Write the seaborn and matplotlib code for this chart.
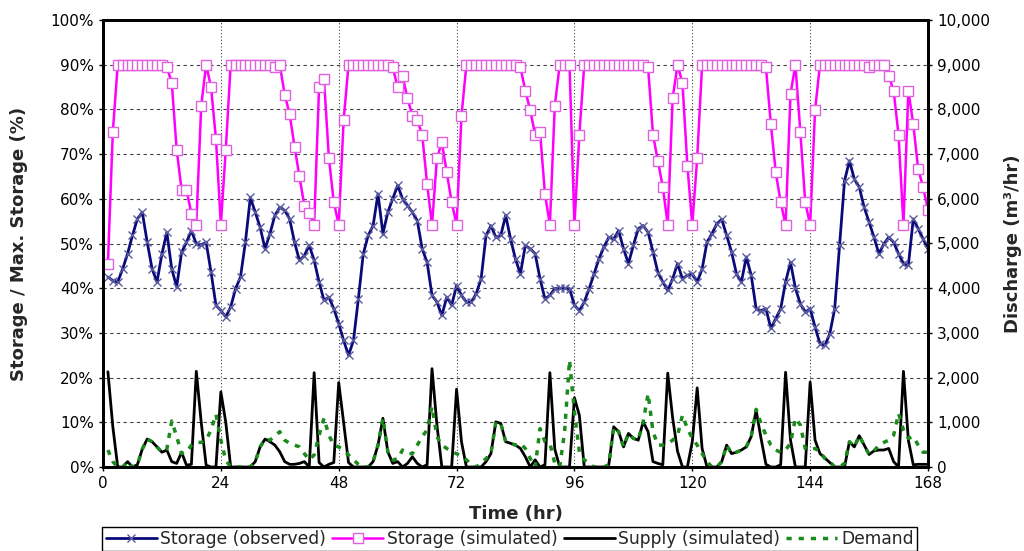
import numpy as np
import pandas as pd
import matplotlib
matplotlib.use("Agg")
import matplotlib.pyplot as plt
import seaborn as sns
from matplotlib.ticker import FuncFormatter, MultipleLocator

hours = list(range(1, 169))

storage_observed = [
    42.5, 41.7, 41.4, 44.3, 47.7, 51.8, 55.5, 57, 50.3, 44.3, 41.4, 47.7,
    52.5, 44.3, 40.3, 48, 50.3, 52.9, 49.9, 49.7, 50.3, 43.6, 36.2, 35,
    33.6, 35.8, 39.9, 42.5, 50.3, 60.3, 57, 53.6, 48.8, 52.2, 56.3, 58.1,
    57.4, 55.5, 50.3, 46.2, 47.3, 49.6, 46.2, 41.4, 37.3, 38, 35.4, 32.1,
    28.3, 25, 28.3, 37.6, 47.7, 51.8, 54, 61.1, 52.2, 57, 60, 63,
    60, 58.5, 57, 55.1, 48.8, 45.8, 38.4, 36.9, 33.9, 38, 36.2, 40.6,
    38.4, 36.9, 36.9, 38.8, 42.1, 51.8, 54, 51.4, 51.8, 56.3, 51, 46.5,
    43.2, 49.6, 48.8, 47.7, 42.1, 37.6, 38.4, 39.9, 40, 40, 39.9, 36.2,
    35, 36.9, 39.9, 43.2, 46.6, 49.2, 51.4, 51, 52.9, 48.8, 45.5, 49.6,
    53.3, 54, 52.5, 48.1, 43.5, 41.4, 39.5, 42.1, 45.5, 42.1, 42.9, 43.2,
    41.4, 44.3, 50.3, 52.2, 54.4, 55.4, 51.8, 48.1, 43.2, 41.4, 47, 42.9,
    35.4, 35, 35.4, 31, 33.2, 35.4, 41.4, 45.8, 40, 36.5, 34.7, 35.4,
    31.3, 27.6, 27.2, 29.8, 35.4, 49.6, 64, 68.5, 64.4, 62.6, 58.1, 54.8,
    51.4, 47.7, 49.9, 51.4, 50.3, 47.7, 45.5, 45.1, 55.5, 53.3, 51, 48.8,
]

storage_simulated = [
    45.5, 75, 90, 90, 90, 90, 90, 90, 90, 90, 90, 90,
    89.4, 86, 71, 62, 62, 56.7, 54.2, 80.8, 90, 85, 73.4, 54.2,
    71, 90, 90, 90, 90, 90, 90, 90, 90, 90, 89.4, 90,
    83.3, 79, 71.7, 65, 58.5, 56.8, 54.2, 85, 86.8, 69.1, 59.2, 54.2,
    77.6, 90, 90, 90, 90, 90, 90, 90, 90, 90, 89.4, 85,
    87.5, 82.5, 78.6, 77.6, 74.3, 63.3, 54.2, 69.1, 72.6, 65.9, 59.2, 54.2,
    78.6, 90, 90, 90, 90, 90, 90, 90, 90, 90, 90, 90,
    89.4, 84.2, 79.8, 74.3, 75, 61, 54.2, 80.8, 90, 90, 90, 54.2,
    74.3, 90, 90, 90, 90, 90, 90, 90, 90, 90, 90, 90,
    90, 90, 89.4, 74.3, 68.4, 62.6, 54.2, 82.5, 90, 85.9, 67.4, 54.2,
    69.1, 90, 90, 90, 90, 90, 90, 90, 90, 90, 90, 90,
    90, 90, 89.4, 76.7, 65.9, 59.2, 54.2, 83.4, 90, 75, 59.2, 54.2,
    79.8, 90, 90, 90, 90, 90, 90, 90, 90, 90, 90, 89.4,
    90, 90, 90, 87.5, 84.2, 74.3, 54.2, 84.2, 76.7, 66.7, 62.6, 57.5,
]

supply_simulated = [
    2130, 900, 0, 0, 120, 0, 50, 400, 625, 565, 450, 330,
    380, 120, 80, 330, 40, 60, 2140, 1000, 40, 0, 0, 1680,
    1000, 0, 0, 0, 0, 0, 120, 450, 625, 565, 490, 340,
    120, 60, 60, 80, 120, 0, 2110, 100, 0, 60, 100, 1890,
    1000, 100, 0, 0, 0, 0, 120, 490, 1090, 340, 80, 120,
    0, 80, 230, 80, 0, 50, 2200, 940, 0, 0, 0, 1740,
    565, 0, 0, 0, 0, 120, 300, 1010, 975, 565, 530, 490,
    415, 230, 0, 160, 0, 50, 2110, 400, 0, 0, 0, 1550,
    1160, 0, 0, 0, 0, 0, 50, 900, 790, 450, 750, 640,
    600, 1010, 790, 120, 80, 50, 2100, 1100, 350, 0, 0, 565,
    1770, 415, 0, 0, 0, 120, 490, 300, 330, 380, 450, 680,
    1270, 640, 60, 0, 0, 50, 2120, 600, 0, 0, 0, 1900,
    600, 300, 200, 100, 0, 0, 0, 565, 450, 700, 490, 280,
    360, 380, 380, 415, 120, 0, 2140, 600, 50, 60, 60, 60,
]

demand = [
    380, 120, 0, 0, 120, 0, 50, 400, 625, 565, 450, 330,
    400, 1030, 680, 300, 330, 490, 550, 550, 600, 830, 1180, 600,
    150, 0, 0, 0, 0, 0, 120, 450, 625, 600, 700, 790,
    600, 530, 490, 450, 300, 160, 270, 710, 1090, 710, 490, 450,
    380, 270, 160, 60, 0, 0, 120, 490, 1090, 340, 160, 180,
    380, 300, 300, 490, 680, 830, 1350, 680, 490, 415, 340, 300,
    230, 160, 60, 0, 80, 190, 300, 1010, 975, 565, 530, 490,
    530, 415, 190, 0, 860, 565, 530, 80, 0, 790, 2390, 1240,
    340, 160, 80, 0, 0, 0, 50, 900, 790, 450, 750, 640,
    600, 1010, 1640, 790, 490, 490, 530, 600, 710, 1160, 860, 640,
    490, 300, 120, 0, 0, 120, 490, 300, 330, 380, 450, 680,
    1290, 975, 710, 490, 380, 330, 380, 530, 1090, 940, 415, 380,
    415, 340, 190, 120, 0, 0, 80, 565, 450, 700, 490, 280,
    360, 490, 550, 600, 710, 1200, 830, 640, 680, 490, 330, 330,
]

x_ticks = [0, 24, 48, 72, 96, 120, 144, 168]
labels = ["Storage (observed)", "Storage (simulated)", "Supply (simulated)", "Demand"]

df = pd.DataFrame({
    "hour": hours,
    "obs": storage_observed,
    "sim": storage_simulated,
    "supply": supply_simulated,
    "demand": demand,
})

sns.set_theme(style="white")
plt.rcParams['font.family'] = ['DejaVu Sans']

fig = plt.figure(figsize=(10.24, 5.51), dpi=100)
ax = fig.add_axes([103/1024, 1-467/551, 825/1024, 447/551])
ax2 = ax.twinx()

sns.lineplot(data=df, x="hour", y="obs", ax=ax, color="#0a0a7a", lw=2,
             marker="x", markersize=6, markeredgecolor="#5a5a9e", markeredgewidth=1,
             label=labels[0], legend=False)
sns.lineplot(data=df, x="hour", y="sim", ax=ax, color="#ff00ff", lw=1.8,
             marker="s", markersize=7, markerfacecolor="white",
             markeredgecolor="#e060e0", markeredgewidth=1,
             label=labels[1], legend=False)
sns.lineplot(data=df, x="hour", y="supply", ax=ax2, color="black", lw=2,
             label=labels[2], legend=False)
sns.lineplot(data=df, x="hour", y="demand", ax=ax2, color="#1a8a1a", lw=2.5,
             linestyle=(0, (1.5, 2)), label=labels[3], legend=False)

ax.set_xlim(0, 168)
ax.set_ylim(0, 100)
ax2.set_ylim(0, 10000)
ax.set_xticks(x_ticks)
ax.yaxis.set_major_locator(MultipleLocator(10))
ax2.yaxis.set_major_locator(MultipleLocator(1000))
ax.yaxis.set_major_formatter(FuncFormatter(lambda v, p: f"{v:.0f}%"))
ax2.yaxis.set_major_formatter(FuncFormatter(lambda v, p: f"{v:,.0f}"))

ax.grid(axis="y", linestyle=(0, (3, 3)), color="#444444", lw=0.8)
ax.grid(axis="x", linestyle=(0, (1, 2)), color="#444444", lw=0.8)
ax2.grid(False)

for a in (ax, ax2):
    for s in a.spines.values():
        s.set_color("black")
        s.set_linewidth(2)
    a.tick_params(labelsize=11, colors="black", length=3, width=1)

ax.tick_params(axis="both", which="major", left=True, bottom=True, direction="out")
ax2.tick_params(axis="y", right=True, direction="out")

ax.set_xlabel("Time (hr)", fontsize=13, fontweight="bold", labelpad=10)
ax.set_ylabel("Storage / Max. Storage (%)", fontsize=13, fontweight="bold", labelpad=16)
ax2.set_ylabel("Discharge (m³/hr)", fontsize=13, fontweight="bold", labelpad=10)

h1, l1 = ax.get_legend_handles_labels()
h2, l2 = ax2.get_legend_handles_labels()
leg = fig.legend(h1 + h2, l1 + l2, loc="center", bbox_to_anchor=(0.4976, 0.0218),
                 ncol=4, fontsize=12.3, frameon=True, fancybox=False,
                 edgecolor="black", framealpha=1, handlelength=3.0,
                 handletextpad=0.2, columnspacing=0.35, borderpad=0.2)
leg.get_frame().set_linewidth(1)

fig.savefig("out.png", dpi=100)
